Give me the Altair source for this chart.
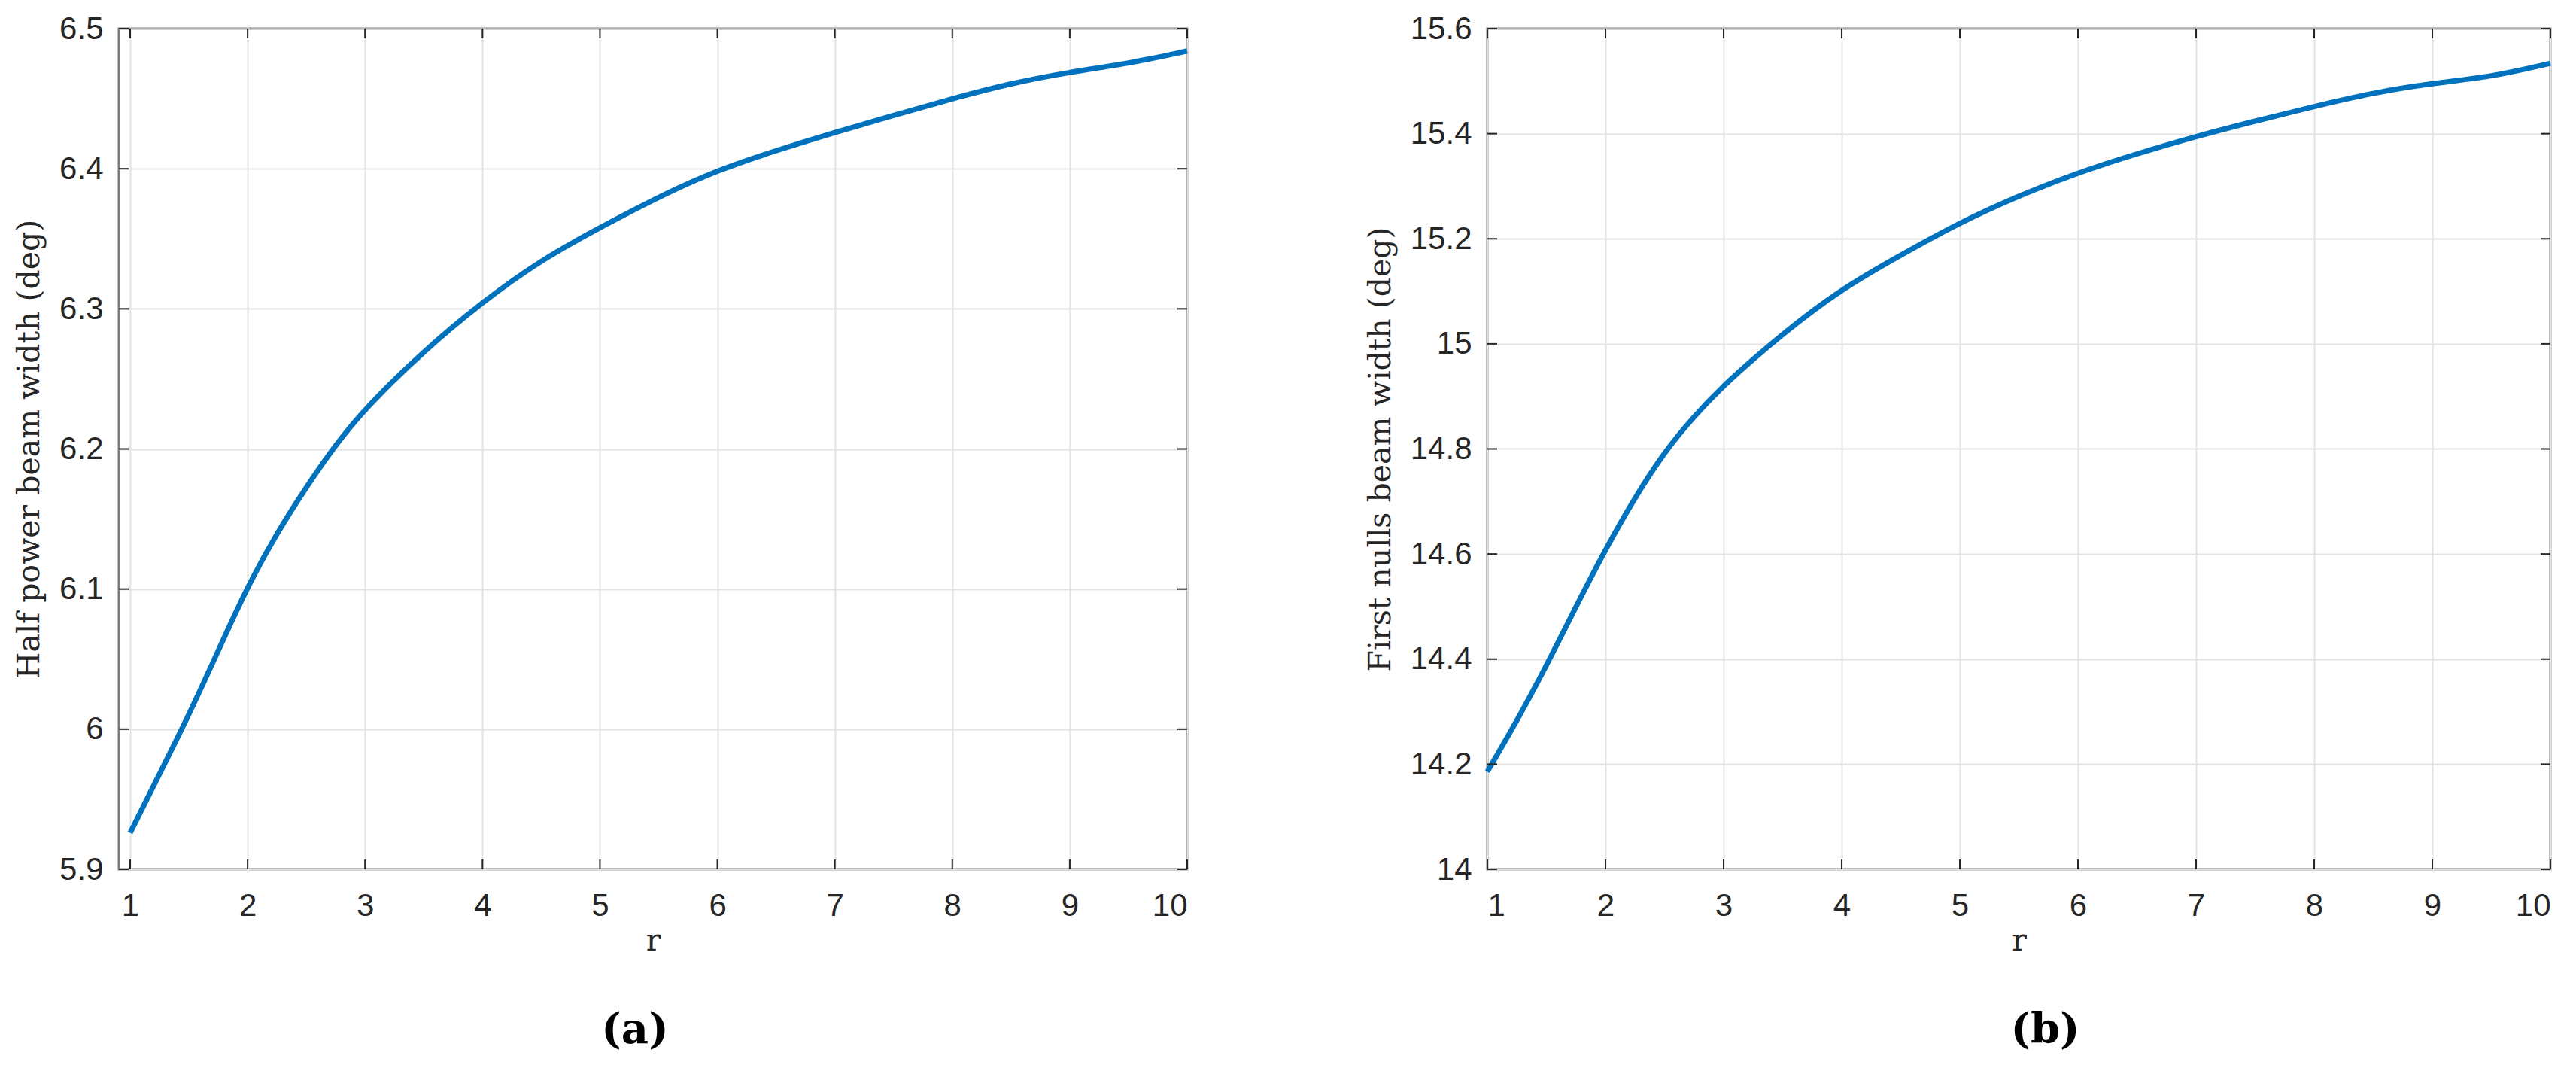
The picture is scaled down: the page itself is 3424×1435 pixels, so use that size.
import altair as alt
import pandas as pd

# ---------------- data ----------------
r_a = [1, 1.25, 1.5, 1.75, 2, 2.25, 2.5, 2.75, 3, 3.5, 4, 4.5, 5, 5.5, 6, 6.5, 7, 7.5, 8, 8.5, 9, 9.5, 10]
hpbw = [5.926, 5.968, 6.010, 6.056, 6.102, 6.140, 6.173, 6.203, 6.229, 6.270, 6.305, 6.335, 6.358,
        6.380, 6.399, 6.413, 6.426, 6.438, 6.450, 6.461, 6.469, 6.475, 6.484]

r_b = [1, 1.25, 1.5, 1.75, 2, 2.25, 2.5, 2.75, 3, 3.5, 4, 4.5, 5, 5.5, 6, 6.5, 7, 7.5, 8, 8.5, 9, 9.5, 10]
fnbw = [14.186, 14.282, 14.387, 14.500, 14.609, 14.708, 14.795, 14.862, 14.922, 15.020, 15.105, 15.169,
        15.231, 15.282, 15.326, 15.362, 15.395, 15.424, 15.452, 15.478, 15.496, 15.508, 15.534]

x_ticks = [1, 2, 3, 4, 5, 6, 7, 8, 9, 10]
y_ticks_a = [5.9, 6.0, 6.1, 6.2, 6.3, 6.4, 6.5]
y_ticks_b = [14.0, 14.2, 14.4, 14.6, 14.8, 15.0, 15.2, 15.4, 15.6]

BLUE = "#0072BD"
TICK = "#262626"
TICK_LEN = 13


def panel(rs, vals, ycol, ytitle, xdom, ydom, yticks, W, H, caption, cap_dx):
    df = pd.DataFrame({"r": rs, ycol: vals})
    xt = pd.DataFrame({"r": x_ticks})
    yt = pd.DataFrame({ycol: yticks})

    x_axis = alt.Axis(values=x_ticks, title="r", grid=True, ticks=False, tickSize=0, domain=False,
                      labelPadding=28, format="d", titlePadding=6)
    y_axis = alt.Axis(values=yticks, title=ytitle, grid=True, ticks=False, tickSize=0, domain=False,
                      labelPadding=21, format="~g", titlePadding=18)
    xs = alt.Scale(domain=xdom, nice=False, zero=False)
    ys = alt.Scale(domain=ydom, nice=False, zero=False)
    X = alt.X("r:Q", scale=xs, axis=x_axis)
    Y = alt.Y(f"{ycol}:Q", scale=ys, axis=y_axis)

    line = alt.Chart(df).mark_line(color=BLUE, strokeWidth=7, interpolate="basis").encode(x=X, y=Y)

    bottom = alt.Chart(xt).mark_rule(color=TICK, strokeWidth=2).encode(
        x=X, y=alt.value(H), y2=alt.value(H - TICK_LEN))
    top = alt.Chart(xt).mark_rule(color=TICK, strokeWidth=2).encode(
        x=X, y=alt.value(0), y2=alt.value(TICK_LEN))
    left = alt.Chart(yt).mark_rule(color=TICK, strokeWidth=2).encode(
        y=Y, x=alt.value(0), x2=alt.value(TICK_LEN))
    right = alt.Chart(yt).mark_rule(color=TICK, strokeWidth=2).encode(
        y=Y, x=alt.value(W), x2=alt.value(W - TICK_LEN))

    return alt.layer(line, bottom, top, left, right).properties(
        width=W, height=H,
        title=alt.TitleParams(text=caption, orient="bottom", font="DejaVu Serif", fontSize=56,
                              fontWeight="bold", color="black", offset=72, dx=cap_dx),
    )


pa = panel(r_a, hpbw, "hpbw", "Half power beam width (deg)", [0.904, 10], [5.9, 6.5], y_ticks_a,
           1420, 1117, "(a)", -24)
pb = panel(r_b, fnbw, "fnbw", "First nulls beam width (deg)", [1, 10], [14.0, 15.6], y_ticks_b,
           1413, 1117, "(b)", 35)

chart = alt.hconcat(pa, pb, spacing=218).properties(
    padding={"left": 9, "top": 7, "right": 0, "bottom": 0}
).configure_view(
    stroke="#7a7a7a", strokeWidth=3
).configure_axis(
    labelFont="Liberation Sans", labelFontSize=42, labelColor="#262626",
    titleFont="DejaVu Serif", titleFontSize=41, titleFontWeight="normal", titleColor="#262626",
    gridColor="#e3e3e3", gridWidth=2, gridOpacity=1,
).configure_title(anchor="middle")

chart.save("out.html", embed_options={"renderer": "svg", "actions": False})
